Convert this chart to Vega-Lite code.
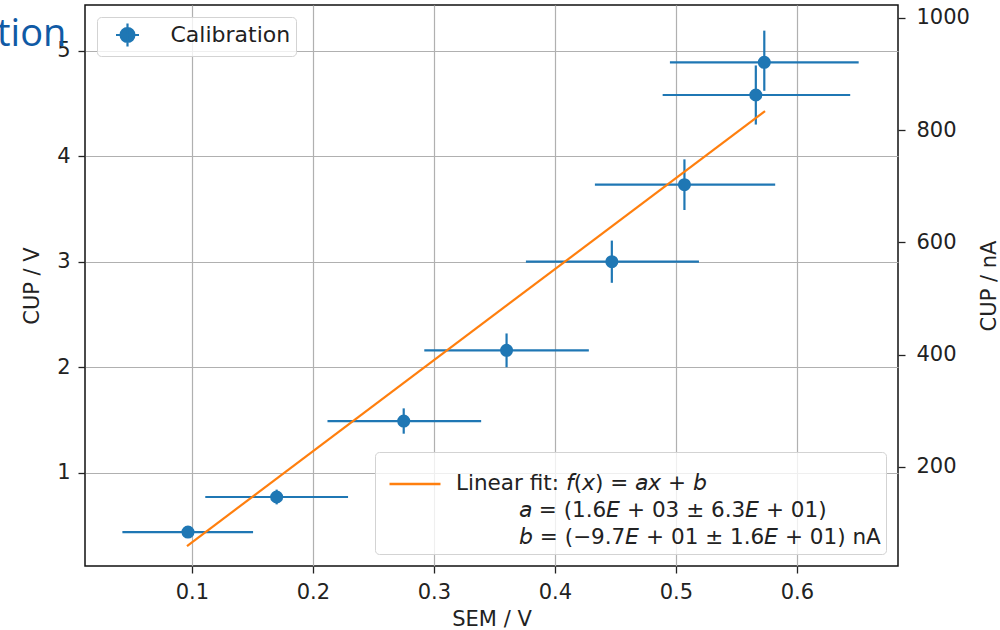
{
  "$schema": "https://vega.github.io/schema/vega-lite/v6.json",
  "width": 813,
  "height": 561,
  "autosize": {"type": "none"},
  "padding": {"left": 85, "top": 5, "right": 102, "bottom": 64},
  "background": "white",
  "title": {
    "text": "tion",
    "anchor": "start",
    "frame": "group",
    "font": "Open Sans",
    "fontSize": 38,
    "fontWeight": "normal",
    "color": "#105aa5",
    "baseline": "alphabetic",
    "offset": 0,
    "dx": -88,
    "dy": 79
  },
  "config": {
    "font": "DejaVu Sans",
    "view": {"stroke": "#111", "strokeWidth": 1.5},
    "axis": {
      "labelFontSize": 21,
      "titleFontSize": 21,
      "labelColor": "#222",
      "titleColor": "#222",
      "titleFontWeight": "normal",
      "tickColor": "#222",
      "tickSize": 7,
      "tickWidth": 1.3,
      "labelPadding": 8,
      "titlePadding": 6,
      "domain": false,
      "gridColor": "#b0b0b0",
      "gridWidth": 1.2
    },
    "legend": {
      "labelColor": "#222",
      "fillColor": "rgba(255,255,255,0.8)",
      "strokeColor": "#d3d3d3",
      "cornerRadius": 4,
      "title": null
    }
  },
  "datasets": {
    "cal": [
      {"series": "Calibration", "x": 0.0967, "y": 0.438, "xlo": 0.0425, "xhi": 0.1505, "ylo": 0.408, "yhi": 0.468},
      {"series": "Calibration", "x": 0.170, "y": 0.77, "xlo": 0.111, "xhi": 0.229, "ylo": 0.70, "yhi": 0.84},
      {"series": "Calibration", "x": 0.275, "y": 1.49, "xlo": 0.212, "xhi": 0.339, "ylo": 1.37, "yhi": 1.61},
      {"series": "Calibration", "x": 0.360, "y": 2.16, "xlo": 0.292, "xhi": 0.428, "ylo": 2.00, "yhi": 2.32},
      {"series": "Calibration", "x": 0.447, "y": 3.00, "xlo": 0.376, "xhi": 0.519, "ylo": 2.80, "yhi": 3.20},
      {"series": "Calibration", "x": 0.507, "y": 3.73, "xlo": 0.433, "xhi": 0.582, "ylo": 3.49, "yhi": 3.97},
      {"series": "Calibration", "x": 0.566, "y": 4.58, "xlo": 0.489, "xhi": 0.644, "ylo": 4.30, "yhi": 4.86},
      {"series": "Calibration", "x": 0.573, "y": 4.89, "xlo": 0.495, "xhi": 0.651, "ylo": 4.62, "yhi": 5.19}
    ],
    "fit": [
      {"series": "Linear fit", "x": 0.0959, "nA": 59.2},
      {"series": "Linear fit", "x": 0.5736, "nA": 834}
    ]
  },
  "layer": [
    {
      "data": {"name": "cal"},
      "layer": [
        {
          "mark": {"type": "rule", "color": "#1f77b4", "strokeWidth": 2.2},
          "encoding": {
            "x": {
              "field": "xlo",
              "type": "quantitative",
              "title": "SEM / V",
              "scale": {"domain": [0.0116, 0.6835], "nice": false, "zero": false},
              "axis": {"values": [0.1, 0.2, 0.3, 0.4, 0.5, 0.6], "format": ".1f", "grid": true}
            },
            "x2": {"field": "xhi"},
            "y": {
              "field": "y",
              "type": "quantitative",
              "title": "CUP / V",
              "scale": {"domain": [0.116, 5.433], "nice": false, "zero": false},
              "axis": {"orient": "left", "values": [1, 2, 3, 4, 5], "format": "d", "grid": true, "titlePadding": 14}
            }
          }
        },
        {
          "mark": {"type": "rule", "color": "#1f77b4", "strokeWidth": 2.2},
          "encoding": {
            "x": {"field": "x", "type": "quantitative", "title": "SEM / V"},
            "y": {"field": "ylo", "type": "quantitative", "title": "CUP / V"},
            "y2": {"field": "yhi"}
          }
        },
        {
          "mark": {"type": "point", "filled": true, "shape": "circle", "size": 170, "opacity": 1},
          "encoding": {
            "x": {"field": "x", "type": "quantitative", "title": "SEM / V"},
            "y": {"field": "y", "type": "quantitative", "title": "CUP / V"},
            "fill": {
              "field": "series",
              "type": "nominal",
              "scale": {"range": ["#1f77b4"]},
              "legend": {
                "orient": "top-left",
                "offset": 12,
                "padding": 5,
                "symbolType": "M-1,0L1,0M0,-1L0,1M0.6,0A0.6,0.6,0,1,1,-0.6,0A0.6,0.6,0,1,1,0.6,0Z",
                "symbolSize": 529,
                "symbolOffset": 12.5,
                "symbolStrokeColor": "#1f77b4",
                "symbolFillColor": "#1f77b4",
                "symbolStrokeWidth": 2.2,
                "labelOffset": 30,
                "labelFontSize": 22,
                "encode": {
                  "symbols": {
                    "update": {
                      "fill": {"value": "#1f77b4"},
                      "stroke": {"value": "#1f77b4"},
                      "strokeWidth": {"value": 2.2},
                      "opacity": {"value": 1}
                    }
                  }
                }
              }
            }
          }
        }
      ]
    },
    {
      "data": {"name": "fit"},
      "mark": {"type": "line", "strokeWidth": 2.2, "color": "#ff7f0e"},
      "encoding": {
        "x": {"field": "x", "type": "quantitative", "title": "SEM / V"},
        "y": {
          "field": "nA",
          "type": "quantitative",
          "title": "CUP / nA",
          "scale": {"domain": [23.6, 1023], "nice": false, "zero": false},
          "axis": {"orient": "right", "values": [200, 400, 600, 800, 1000], "format": "d", "grid": false, "titleAngle": 270, "labelPadding": 11, "titlePadding": 30}
        },
        "stroke": {
          "field": "series",
          "type": "nominal",
          "scale": {"range": ["#ff7f0e"]},
          "legend": {
            "orient": "bottom-right",
            "offset": 12,
            "padding": 5,
            "symbolType": "stroke",
            "symbolSize": 2600,
            "symbolStrokeWidth": 2.5,
            "symbolOffset": 8,
            "labelOffset": 14,
            "labelFontSize": 21.5,
            "labelLimit": 900,
            "labelExpr": "['Linear fit: 𝘧(𝘹) = 𝘢𝘹 + 𝘣', '\u2800\u2800\u2800\u2800𝘢 = (1.6𝘌 + 03 ± 6.3𝘌 + 01)', '\u2800\u2800\u2800\u2800𝘣 = (−9.7𝘌 + 01 ± 1.6𝘌 + 01) nA']",
            "encode": {
              "labels": {"update": {"lineHeight": {"value": 27}}}
            }
          }
        }
      }
    }
  ],
  "resolve": {"scale": {"y": "independent"}}
}
